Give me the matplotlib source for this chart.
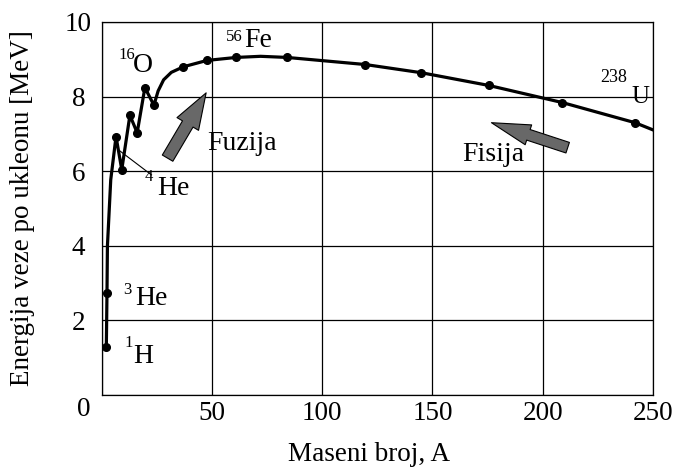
import matplotlib
matplotlib.use("Agg")
import matplotlib.pyplot as plt
from matplotlib.patches import FancyArrowPatch

plt.rcParams['font.family'] = ['Liberation Serif', 'DejaVu Serif']

# measured points (mass number, binding energy per nucleon)
mark_a = [2, 2.3, 6.4, 9, 12.7, 16, 19.5, 23.6, 37, 47.7, 61, 84, 119.5, 145, 175.5, 209, 242]
mark_e = [1.29, 2.74, 6.93, 6.04, 7.5, 7.03, 8.24, 7.77, 8.8, 8.97, 9.05, 9.05, 8.86, 8.64, 8.3, 7.84, 7.3]

# vertices of the drawn curve
curve_a = [2, 2.3, 2.5, 4, 6.4, 9, 12.7, 16, 19.5, 23.6, 25.5, 28, 31.5, 37, 47.7, 61, 72, 84,
           119.5, 145, 175.5, 209, 242, 250]
curve_e = [1.29, 2.74, 4.0, 5.77, 6.93, 6.04, 7.5, 7.03, 8.24, 7.77, 8.15, 8.45, 8.65, 8.8, 8.97,
           9.05, 9.08, 9.05, 8.86, 8.64, 8.3, 7.84, 7.3, 7.11]

x_ticks = [0, 50, 100, 150, 200, 250]
x_labels = ['', '50', '100', '150', '200', '250']
y_ticks = [0, 2, 4, 6, 8, 10]
y_labels = ['', '2', '4', '6', '8', '10']

fig = plt.figure(figsize=(6.75, 4.68), dpi=100)
ax = fig.add_axes([0.151, 0.156, 0.816, 0.797])

ax.plot(curve_a, curve_e, color='black', lw=2.3, solid_joinstyle='round', zorder=3)
ax.plot(mark_a, mark_e, 'o', color='black', ms=5.5, zorder=4)

ax.set_xlim(0, 250)
ax.set_ylim(0, 10)
ax.set_xticks(x_ticks)
ax.set_xticklabels(x_labels)
ax.set_yticks(y_ticks)
ax.set_yticklabels(y_labels, ha='center')
ax.tick_params(axis='both', length=0, labelsize=19.5)
ax.tick_params(axis='x', pad=4)
ax.tick_params(axis='y', pad=17)
ax.grid(True, color='black', lw=0.9)
for s in ax.spines.values():
    s.set_linewidth(0.9)
ax.text(-8.2, -0.4, '0', fontsize=19.5, ha='center', va='center', clip_on=False)

ax.set_xlabel('Maseni broj, A', fontsize=19.5)
ax.xaxis.set_label_coords(0.485, -0.125)
fig.text(23 / 675, 1 - 208 / 468, 'Energija veze po ukleonu [MeV]', rotation=90,
         fontsize=19.5, ha='center', va='center')

# nuclide labels
big = 20
sup = 12
ax.text(7.5, 9.02, '16', fontsize=sup, va='baseline')
ax.text(14.1, 8.67, 'O', fontsize=20, va='baseline')
ax.text(56.5, 9.48, '56', fontsize=sup, va='baseline')
ax.text(64.5, 9.34, 'Fe', fontsize=big, va='baseline')
ax.text(19.6, 5.74, '4', fontsize=sup, va='baseline')
ax.text(25, 5.37, 'He', fontsize=big, va='baseline')
ax.text(9.6, 2.71, '3', fontsize=sup, va='baseline')
ax.text(15, 2.42, 'He', fontsize=big, va='baseline')
ax.text(10.2, 1.29, '1', fontsize=sup, va='baseline')
ax.text(14.2, 0.86, 'H', fontsize=big, va='baseline')
ax.text(226, 8.4, '238', fontsize=sup + 1, va='baseline')
ax.text(240.5, 7.84, 'U', fontsize=18, va='baseline', clip_on=False)

ax.plot([8, 22.5], [6.55, 5.9], color='black', lw=0.8, zorder=3)

ax.text(47.7, 6.58, 'Fuzija', fontsize=20, va='baseline')
ax.text(163.6, 6.26, 'Fisija', fontsize=20, va='baseline')

style_fu = 'simple,head_length=1.3,head_width=0.9,tail_width=0.44'
style_fi = 'simple,head_length=1.4,head_width=0.75,tail_width=0.4'
ax.add_patch(FancyArrowPatch((29.8, 6.35), (47.3, 8.1), arrowstyle=style_fu, mutation_scale=20,
                             fc='#686868', ec='black', lw=0.8, shrinkA=0, shrinkB=0, zorder=5))
ax.add_patch(FancyArrowPatch((211.4, 6.63), (176.8, 7.3), arrowstyle=style_fi, mutation_scale=20,
                             fc='#686868', ec='black', lw=0.8, shrinkA=0, shrinkB=0, zorder=5))

fig.savefig('out.png', dpi=100)
